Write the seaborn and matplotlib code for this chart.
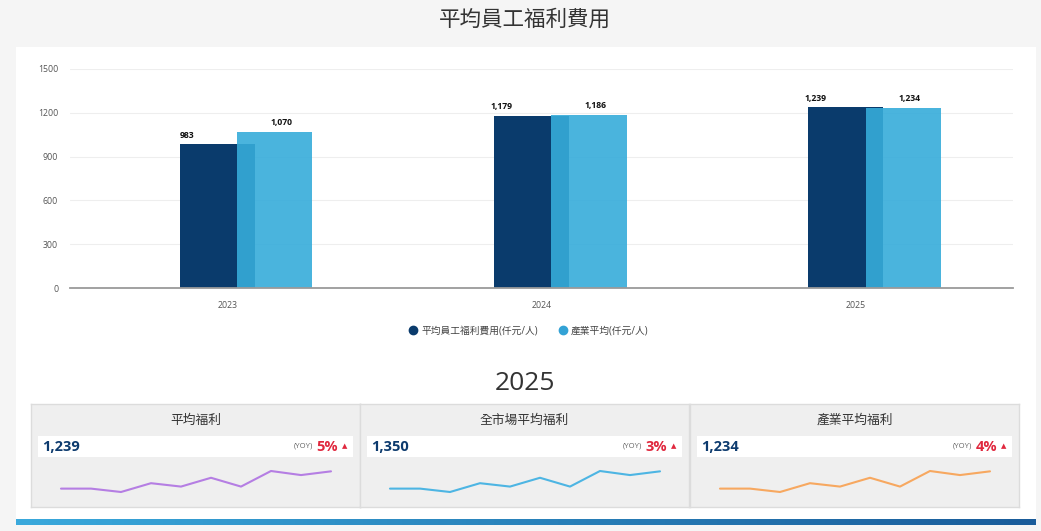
import numpy as np
import pandas as pd
import seaborn as sns
import matplotlib.pyplot as plt
from matplotlib.patches import Rectangle
from matplotlib.lines import Line2D
from matplotlib.colors import LinearSegmentedColormap

# bar chart data
years = ['2023', '2024', '2025']
company = [983, 1179, 1239]
industry = [1070, 1186, 1234]
series_names = ['平均員工福利費用(仟元/人)', '產業平均(仟元/人)']

# summary cards
card_titles = ['平均福利', '全市場平均福利', '產業平均福利']
card_values = ['1,239', '1,350', '1,234']
card_yoy = ['5%', '3%', '4%']
card_colors = ['#b57ee3', '#4db5e3', '#f7a860']
# sparkline shape (same in all three cards)
trend = [14, 14, 4, 30, 20, 46, 20, 66, 54, 65]

dark = '#0a3b6c'
light = '#36acda'

df = pd.DataFrame({
    'year': years * 2,
    'value': company + industry,
    'series': [series_names[0]] * 3 + [series_names[1]] * 3,
})

sns.set_theme(style='white')
plt.rcParams['font.family'] = ['Open Sans', 'Noto Sans CJK TC', 'DejaVu Sans']

W, H = 1041, 531
fig = plt.figure(figsize=(W / 100, H / 100), dpi=100, facecolor='#f5f5f5')


def fr(x0, y0, x1, y1):
    # pixel box (top-left origin) -> figure fraction rect
    return [x0 / W, 1 - y1 / H, (x1 - x0) / W, (y1 - y0) / H]


# white panel
fig.patches.append(Rectangle((16 / W, 1 - 519 / H), (1036 - 16) / W, (519 - 47) / H,
                             transform=fig.transFigure, facecolor='white',
                             edgecolor='none', zorder=-10))

# gradient bar at bottom
gax = fig.add_axes(fr(16, 519, 1036, 525))
cmap = LinearSegmentedColormap.from_list('blu', ['#3aa9dc', '#1a5c9a'])
gax.imshow(np.linspace(0, 1, 256)[None, :], aspect='auto', cmap=cmap)
gax.axis('off')

# title
fig.text(525 / W, 1 - 20 / H, '平均員工福利費用', ha='center', va='center',
         fontsize=15.5, color='#333333')

# main bar chart
ax = fig.add_axes(fr(70, 69, 1013, 288))
ax.set_facecolor('none')
sns.barplot(data=df, x='year', y='value', hue='series', palette=[dark, light],
            width=0.478, saturation=1, legend=False, ax=ax, zorder=3,
            linewidth=0, edgecolor='none')

shifts = [0.0875, 0.0315]
for k, cont in enumerate(ax.containers):
    for bar in cont:
        bar.set_x(bar.get_x() + shifts[k])
        bar.set_linewidth(0)
        if k == 1:
            bar.set_alpha(0.9)
            bar.set_zorder(4)

lab_off = [0.024, 0.14]
for k, vals in enumerate([company, industry]):
    for bar, v in zip(ax.containers[k], vals):
        ax.annotate(f'{v:,}', (bar.get_x() + lab_off[k], v), xytext=(0, 6.5),
                    textcoords='offset points', ha='center', va='center',
                    fontsize=6.2, fontweight='bold', color='#111111',
                    annotation_clip=False)

ax.set_xlim(-0.5, 2.5)
ax.set_ylim(0, 1500)
ax.set_yticks(range(0, 1501, 300))
ax.grid(axis='y', color='#eeeeee', lw=0.8, zorder=0)
ax.set_axisbelow(True)
for s in ['top', 'right', 'left']:
    ax.spines[s].set_visible(False)
ax.spines['bottom'].set_color('#9a9a9a')
ax.spines['bottom'].set_linewidth(1.3)
ax.spines['bottom'].set_zorder(5)
ax.tick_params(axis='y', length=0, pad=8.5, labelsize=6.3, labelcolor='#555555')
ax.tick_params(axis='x', length=0, pad=9, labelsize=6.3, labelcolor='#555555')
ax.set_xlabel('')
ax.set_ylabel('')

handles = [Line2D([], [], marker='o', ls='', color=c, markersize=6)
           for c in [dark, '#33a2d5']]
fig.legend(handles, series_names, loc='center', bbox_to_anchor=(528 / W, 1 - 331 / H),
           ncol=2, frameon=False, fontsize=7, handletextpad=0.2, handlelength=1.2,
           columnspacing=2.0, labelcolor='#444444')

# year header
fig.text(525 / W, 1 - 383 / H, '2025', ha='center', va='center',
         fontsize=19, color='#333333')

# cards
card_x = [31, 360, 690]
cw = 329
red = '#e0283e'
for x0, title, val, yoy, col in zip(card_x, card_titles, card_values, card_yoy, card_colors):
    cax = fig.add_axes(fr(x0, 404, x0 + cw, 507))
    cax.set_facecolor('#efefef')
    cax.set_xlim(0, cw)
    cax.set_ylim(103, 0)
    cax.set_xticks([])
    cax.set_yticks([])
    for s in cax.spines.values():
        s.set_color('#dcdcdc')
        s.set_linewidth(1)
    cax.add_patch(Rectangle((7, 32), cw - 14, 21, facecolor='white', edgecolor='none'))
    cax.text(cw / 2, 16.5, title, ha='center', va='center', fontsize=9.2, color='#333333')
    cax.text(11, 43, val, ha='left', va='center', fontsize=10.5, fontweight='bold',
             color='#0d3b6e')
    cax.text(cw - 15, 42, '▲', ha='center', va='center', fontsize=5, color=red,
             family='DejaVu Sans')
    cax.text(cw - 22, 43, yoy, ha='right', va='center', fontsize=10.5,
             fontweight='bold', color=red)
    cax.text(cw - 47, 42, '(YOY)', ha='right', va='center', fontsize=5.5,
             color='#666666')

    sax = fig.add_axes(fr(x0 + 30, 471, x0 + cw - 29, 492))
    sax.set_facecolor('none')
    sns.lineplot(x=list(range(len(trend))), y=trend, color=col, lw=1.5, ax=sax)
    for ln in sax.lines:
        ln.set_clip_on(False)
    sax.set_xlim(0, len(trend) - 1)
    sax.set_ylim(min(trend), max(trend))
    sax.axis('off')

fig.savefig('out.png', dpi=100, facecolor=fig.get_facecolor())
